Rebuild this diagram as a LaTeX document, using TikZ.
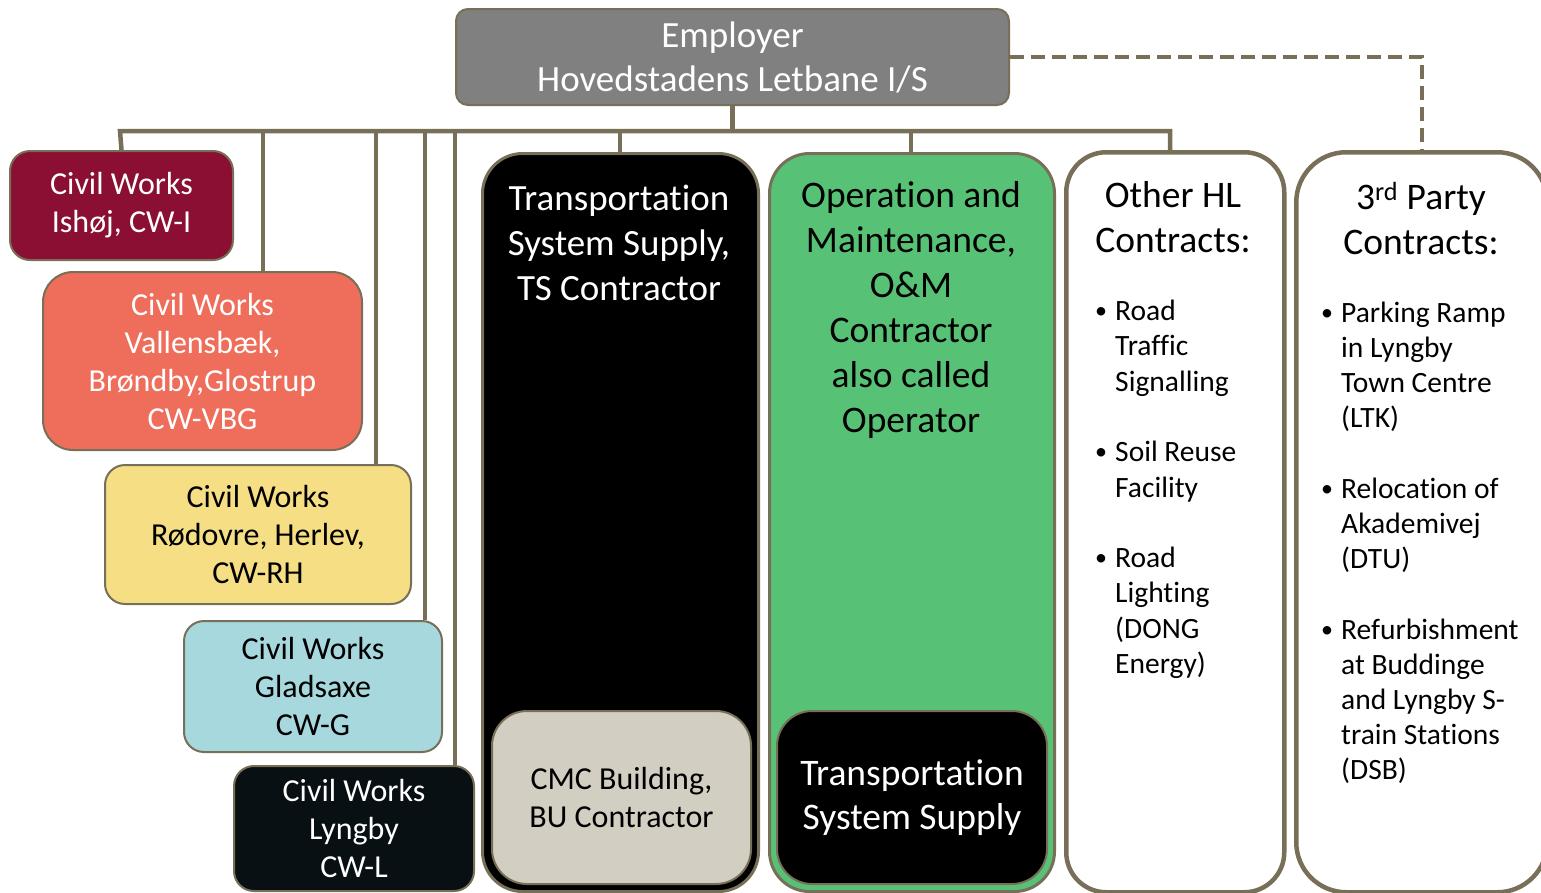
\documentclass[tikz,border=0pt]{standalone}
\usepackage{fontspec}
\setmainfont{Carlito}[Ligatures=NoCommon]
\definecolor{hlline}{HTML}{776F57}
\definecolor{hlgrey}{HTML}{808080}
\definecolor{cwi}{HTML}{8A0F33}
\definecolor{cwvbg}{HTML}{EE6E5B}
\definecolor{cwrh}{HTML}{F5DE83}
\definecolor{cwg}{HTML}{A7D8DD}
\definecolor{cwl}{HTML}{081014}
\definecolor{omgreen}{HTML}{57C275}
\definecolor{cmcgrey}{HTML}{D2CEC2}
\newcommand{\hlbul}{\makebox[18pt][l]{\hspace*{-2pt}\raisebox{2pt}{\fontsize{24}{24}\selectfont\textbullet}}}
\newcommand{\hlpad}{\hspace*{18pt}}

\begin{document}
\begin{tikzpicture}[x=1pt,y=-1pt,
    box/.style={draw=hlline,line width=2pt,rounded corners=20pt,inner sep=0pt,align=center,anchor=north west,font=\fontsize{32}{38}\selectfont},
    tall/.style={box,line width=3pt,rounded corners=40pt},
    conn/.style={draw=hlline,line width=4.5pt}]
      \useasboundingbox (0,0) rectangle (1541,892);
      \node[box,fill=hlgrey,text=white,rounded corners=12pt,minimum width=553pt,minimum height=96pt,font=\fontsize{37}{44}\selectfont] (emp) at (455,8) {Employer\\Hovedstadens Letbane I/S};
      \node[box,fill=cwi,text=white,minimum width=223pt,minimum height=109pt] (cwi) at (9,150) {Civil Works\\Ishøj, CW-I};
      \node[box,fill=cwvbg,text=white,rounded corners=30pt,minimum width=319pt,minimum height=178pt] (cwvbg) at (42,271) {Civil Works\\Vallensbæk,\\Brøndby,Glostrup\\CW-VBG};
      \node[box,fill=cwrh,minimum width=306pt,minimum height=139pt] (cwrh) at (104,464) {Civil Works\\Rødovre, Herlev,\\CW-RH};
      \node[box,fill=cwg,minimum width=258pt,minimum height=131pt] (cwg) at (183,620) {Civil Works\\Gladsaxe\\CW-G};
      \node[box,fill=cwl,text=white,minimum width=240pt,minimum height=125pt] (cwl) at (233,765) {Civil Works\\Lyngby\\CW-L};
      \node[tall,fill=black,minimum width=276pt,minimum height=738pt] (ts) at (481,152) {};
      \node[box,fill=cmcgrey,rounded corners=35pt,minimum width=259pt,minimum height=173pt] (cmc) at (491,710) {CMC Building,\\BU Contractor};
      \node[tall,fill=omgreen,minimum width=285pt,minimum height=738pt] (om) at (768,152) {};
      \node[box,fill=black,text=white,rounded corners=35pt,minimum width=270pt,minimum height=173pt,font=\fontsize{37.5}{44}\selectfont] (tss) at (776,710) {Transportation\\System Supply};
      \node[tall,fill=white,line width=4.5pt,minimum width=218pt,minimum height=740pt] (hl) at (1064,150) {};
      \node[tall,fill=white,line width=4.5pt,rounded corners=50pt,minimum width=251pt,minimum height=740pt] (third) at (1294,150) {};
      \node[text=white,align=center,font=\fontsize{37}{45}\selectfont] (tstext) at (619,243) {Transportation\\System Supply,\\TS Contractor};
      \node[align=center,font=\fontsize{37.5}{45}\selectfont] (omtext) at (911,310) {Operation and\\Maintenance,\\O\&M\\Contractor\\also called\\Operator};
      \node[align=center,font=\fontsize{37.5}{45}\selectfont] (hltext) at (1173,217) {Other HL\\Contracts:};
      \node[align=center,font=\fontsize{37.5}{45}\selectfont] (thirdtext) at (1421,219) {3\textsuperscript{rd} Party\\Contracts:};
      \node[anchor=west,inner sep=0pt,font=\fontsize{29.5}{35.3}\selectfont] (hllist) at (1097,490) {\begin{tabular}{@{}l@{}}
        \hlbul Road\\ \hlpad Traffic\\ \hlpad Signalling\\ \\
        \hlbul Soil Reuse\\ \hlpad Facility\\ \\
        \hlbul Road\\ \hlpad Lighting\\ \hlpad (DONG\\ \hlpad Energy)
      \end{tabular}};
      \node[anchor=west,inner sep=0pt,font=\fontsize{29.5}{35.2}\selectfont] (thirdlist) at (1323,544) {\begin{tabular}{@{}l@{}}
        \hlbul Parking Ramp\\ \hlpad in Lyngby\\ \hlpad Town Centre\\ \hlpad (LTK)\\ \\
        \hlbul Relocation of\\ \hlpad Akademivej\\ \hlpad (DTU)\\ \\
        \hlbul Refurbishment\\ \hlpad at Buddinge\\ \hlpad and Lyngby S-\\ \hlpad train Stations\\ \hlpad (DSB)
      \end{tabular}};
      \draw[conn] (emp.south) -- (emp.south |- 0,131);
      \draw[conn] (cwi.north) -- (120,131) -- (1170,131) -- (1170,131 |- hl.north);
      \foreach \x/\n in {263/cwvbg,376/cwrh,425/cwg,455/cwl,620/ts,911/om}
        \draw[conn] (\x,131) -- (\x,131 |- \n.north);
      \draw[conn,dash pattern=on 14pt off 7pt] (emp.east) -| (third.north);
    \end{tikzpicture}
\end{document}
